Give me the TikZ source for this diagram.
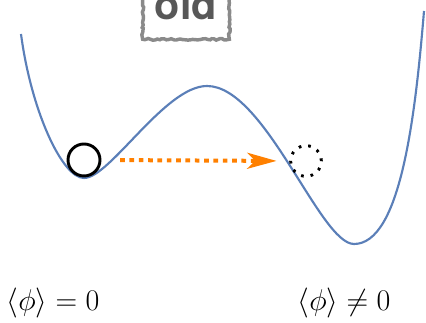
\RequirePackage{fix-cm}
\documentclass[tikz,border=0pt]{standalone}
\usepackage{fontspec}
\setsansfont{TeX Gyre Heros}
\usetikzlibrary{arrows.meta,decorations.pathmorphing}

\definecolor{wellblue}{RGB}{91,127,184}
\definecolor{moveorange}{RGB}{255,128,0}
\definecolor{taggray}{RGB}{138,138,138}
\definecolor{tagtext}{RGB}{88,88,88}

\tikzset{every picture/.style={line width=0.75pt}}
\tikzset{
  well/.style={color=wellblue, line width=1.6},
  ball/.style={circle, draw=black, line width=2.2pt, minimum size=24pt, inner sep=0pt},
  ghost/.style={circle, draw=black, line width=2.2pt, dash pattern={on 2pt off 5.2pt}, minimum size=23pt, inner sep=0pt},
  move/.style={color=moveorange, line width=3pt, dash pattern={on 3.5pt off 3.5pt},
    -{Stealth[length=22pt, width=12pt, inset=6pt]}, shorten <=14pt, shorten >=9.5pt},
  vev/.style={inner sep=0pt, font=\fontsize{22.5}{26}\selectfont},
  tagbox/.style={draw=taggray, line width=2.6pt, fill=white, text=tagtext,
    decorate, decoration={random steps, segment length=1.8pt, amplitude=0.7pt},
    font=\sffamily\bfseries\fontsize{31}{36}\selectfont,
    minimum width=65pt, inner ysep=15pt, text depth=0pt}
}

\begin{document}
\begin{tikzpicture}[x=0.75pt,y=0.75pt,yscale=-1,xscale=1]
\useasboundingbox (0,0) rectangle (426,323);

%Curve Lines [double well]
\draw [well] (21,34) .. controls (31,110) and (62,178) .. (84,178) .. controls (110,178) and (165,86) .. (207,86) .. controls (265,86) and (320,244) .. (354,244) .. controls (400,244) and (415,120) .. (424,11) ;

%Shape: Circle [ball]
\node [ball] (ball) at (84,160) {};
%Shape: Circle [ghost ball]
\node [ghost] (ghost) at (306,161) {};
%Straight Lines [tunnel]
\draw [move] (ball.east) -- (ghost.west) ;

% Text Node
\node [tagbox, anchor=south] (old) at (186,41) {old};
% Text Node
\node [vev] (vevzero) at (53,303) {$\langle\phi\rangle = 0$};
% Text Node
\node [vev] (vevnonzero) at (344,303) {$\langle\phi\rangle \neq 0$};

\end{tikzpicture}
\end{document}
